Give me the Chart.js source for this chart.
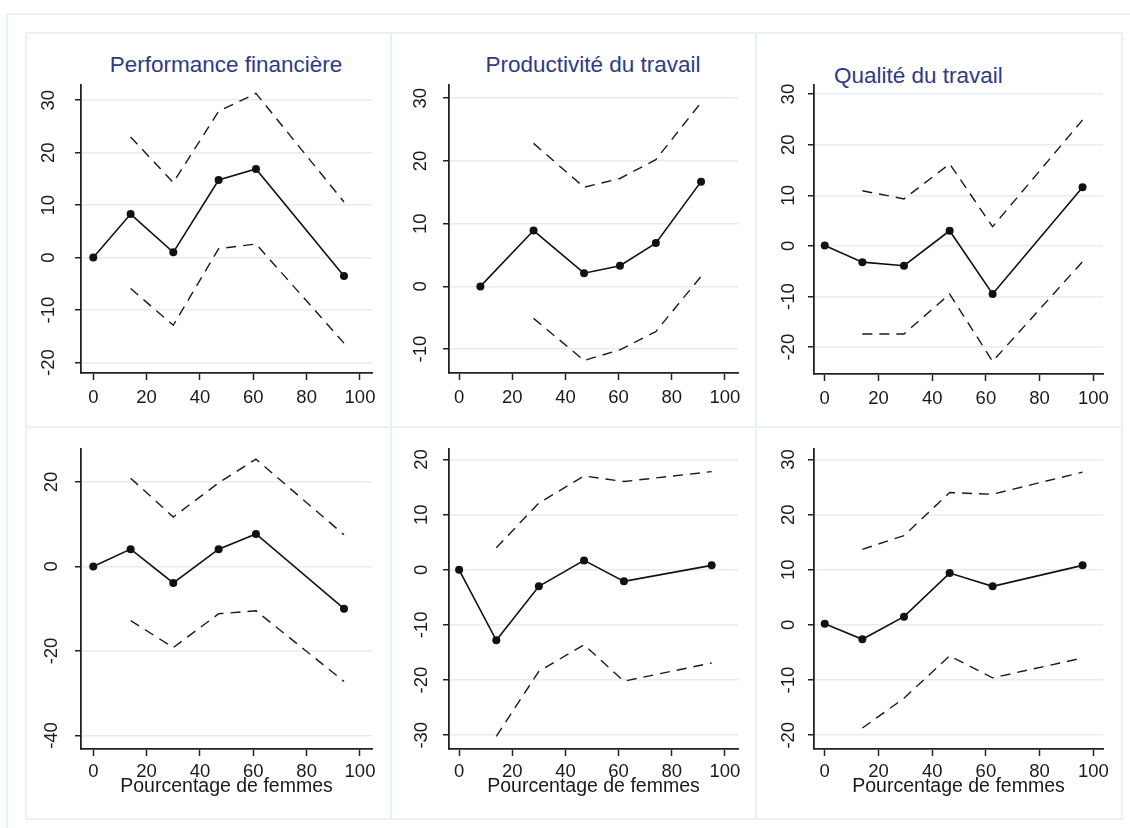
<!DOCTYPE html>
<html>
<head>
<meta charset="utf-8">
<script src="https://cdn.jsdelivr.net/npm/chart.js@4.4.1/dist/chart.umd.min.js"></script>
<style>
  body { margin: 0; background: #fff; }
  #wrap { position: relative; width: 1130px; height: 828px; overflow: hidden; font-family: "Liberation Sans", Arial, sans-serif; }
  .frame { position: absolute; border: 2px solid #e9f1f3; box-sizing: border-box; }
  .line { position: absolute; background: #e9f1f3; }
  canvas { position: absolute; }
  .ttl { position: absolute; font-size: 22.5px; line-height: 23px; color: #2e3a87; white-space: nowrap; }
</style>
</head>
<body>
<div id="wrap">
  <div class="frame" style="left:6px;top:13px;width:1140px;height:830px"></div>
  <div class="frame" style="left:25px;top:32px;width:1098px;height:788px"></div>
  <div class="line" style="left:390px;top:32px;width:2px;height:788px"></div>
  <div class="line" style="left:755px;top:32px;width:2px;height:788px"></div>
  <div class="line" style="left:25px;top:426px;width:1098px;height:2px"></div>
  <div class="ttl" style="left:76px;top:53px;width:300px;text-align:center">Performance financière</div>
  <div class="ttl" style="left:443px;top:53px;width:300px;text-align:center">Productivité du travail</div>
  <div class="ttl" style="left:834px;top:64px">Qualité du travail</div>
</div>
<script>
// tick labels
const xTicks = [0, 20, 40, 60, 80, 100]
const yTicksFin1 = [-20, -10, 0, 10, 20, 30]
const yTicksProd1 = [-10, 0, 10, 20, 30]
const yTicksQual1 = [-20, -10, 0, 10, 20, 30]
const yTicksFin2 = [-40, -20, 0, 20]
const yTicksProd2 = [-30, -20, -10, 0, 10, 20]
const yTicksQual2 = [-20, -10, 0, 10, 20, 30]

// pourcentage de femmes (x)
const xFin = [0, 14, 30, 47, 61, 94]
const xProd1 = [8, 28, 47, 60.5, 74, 91]
const xQual = [0, 14, 29.5, 46.5, 62.5, 96]
const xProd2 = [0, 14, 30, 47, 62, 95]

// haut : estimation, borne haute, borne basse
const fin1 = [0, 8.3, 1, 14.8, 16.9, -3.5]
const fin1Hi = [null, 23, 14.3, 27.9, 31.3, 10.6]
const fin1Lo = [null, -5.9, -12.9, 1.7, 2.6, -16.3]

const prod1 = [0, 8.9, 2.1, 3.3, 6.9, 16.7]
const prod1Hi = [null, 22.8, 15.8, 17.2, 20.2, 29.3]
const prod1Lo = [null, -5.1, -11.8, -10.1, -7.2, 1.6]

const qual1 = [0.1, -3.2, -3.9, 3, -9.5, 11.6]
const qual1Hi = [null, 10.9, 9.3, 16.2, 3.8, 24.9]
const qual1Lo = [null, -17.4, -17.4, -9.5, -22.8, -3.1]

// bas
const fin2 = [0, 4.1, -3.9, 4.1, 7.7, -10]
const fin2Hi = [null, 20.9, 11.7, 19.8, 25.4, 7.5]
const fin2Lo = [null, -12.8, -19.2, -11.2, -10.5, -27.2]

const prod2 = [0, -12.8, -3, 1.7, -2.1, 0.8]
const prod2Hi = [null, 4, 12.1, 17, 16, 17.8]
const prod2Lo = [null, -30.2, -18.4, -13.6, -20.2, -16.9]

const qual2 = [0.2, -2.6, 1.5, 9.4, 7, 10.8]
const qual2Hi = [null, 13.7, 16.2, 24, 23.7, 27.7]
const qual2Lo = [null, -18.7, -13.3, -5.6, -9.6, -6]

Chart.defaults.font.family = '"Liberation Sans", Arial, sans-serif'

const cols = [26, 391, 756, 1122]
const rows = [33, 427, 819]

function makePanel(cfg) {
    const [x0, y0, x1, y1] = cfg.box
    const [L, T, R, B] = cfg.area
    const cv = document.createElement('canvas')
    cv.width = x1 - x0
    cv.height = y1 - y0
    cv.style.left = x0 + 'px'
    cv.style.top = y0 + 'px'
    document.getElementById('wrap').appendChild(cv)

    const pts = ys => cfg.x.map((x, i) => ({ x: x, y: ys[i] }))
    const dashed = ys => ({
        data: pts(ys),
        borderColor: '#1a1a1a',
        borderWidth: 1.4,
        borderDash: [10, 7],
        pointRadius: 0,
        tension: 0
    })

    new Chart(cv, {
        type: 'line',
        data: {
            datasets: [
                dashed(cfg.hi),
                dashed(cfg.lo),
                {
                    data: pts(cfg.est),
                    borderColor: '#111',
                    borderWidth: 1.6,
                    pointRadius: 4,
                    pointBorderWidth: 0,
                    pointBackgroundColor: '#111',
                    tension: 0
                }
            ]
        },
        options: {
            responsive: false,
            animation: false,
            events: [],
            layout: { padding: { left: 0, top: T - y0, right: x1 - R, bottom: 0 } },
            plugins: { legend: { display: false }, tooltip: { enabled: false } },
            scales: {
                x: {
                    type: 'linear',
                    min: cfg.xr[0],
                    max: cfg.xr[1],
                    afterFit: s => { s.height = y1 - B },
                    afterBuildTicks: s => { s.ticks = xTicks.map(v => ({ value: v })) },
                    grid: { drawOnChartArea: false, tickLength: 7, tickColor: '#222', tickWidth: 1.5 },
                    border: { color: '#222', width: 1.8 },
                    ticks: { font: { size: 18.5 }, color: '#1a1a1a', padding: cfg.xPad, maxRotation: 0, autoSkip: false },
                    title: {
                        display: !!cfg.xTitle,
                        text: cfg.xTitle || '',
                        font: { size: 19.5 },
                        color: '#1a1a1a',
                        padding: { top: 0, bottom: 20.6 }
                    }
                },
                y: {
                    type: 'linear',
                    min: cfg.yr[0],
                    max: cfg.yr[1],
                    afterFit: s => { s.width = L - x0 },
                    afterBuildTicks: s => { s.ticks = cfg.yTicks.map(v => ({ value: v })) },
                    grid: { color: '#e4eef1', lineWidth: 1.5, tickLength: 6, tickColor: '#222', tickWidth: 1.5 },
                    border: { color: '#222', width: 1.8 },
                    ticks: {
                        font: { size: 18.5 }, color: '#1a1a1a', padding: cfg.yPad,
                        minRotation: 90, maxRotation: 90, crossAlign: 'center', autoSkip: false
                    }
                }
            }
        }
    })
}

const xlab = 'Pourcentage de femmes'

makePanel({ box: [cols[0], rows[0], cols[1], rows[1]], area: [81, 85, 372, 373], xr: [-4.6, 104.5], yr: [-22, 32.9],
    yTicks: yTicksFin1, yPad: 13, xPad: 7, x: xFin, est: fin1, hi: fin1Hi, lo: fin1Lo })
makePanel({ box: [cols[1], rows[0], cols[2], rows[1]], area: [449, 85, 738, 373], xr: [-3.8, 104.9], yr: [-13.8, 32.1],
    yTicks: yTicksProd1, yPad: 9, xPad: 7, x: xProd1, est: prod1, hi: prod1Hi, lo: prod1Lo })
makePanel({ box: [cols[2], rows[0], cols[3], rows[1]], area: [814, 85, 1103, 374], xr: [-4, 103.6], yr: [-25.3, 31.8],
    yTicks: yTicksQual1, yPad: 6, xPad: 7, x: xQual, est: qual1, hi: qual1Hi, lo: qual1Lo })

makePanel({ box: [cols[0], rows[1], cols[1], rows[2]], area: [81, 449, 372, 749], xr: [-4.6, 104.5], yr: [-43.2, 27.8],
    yTicks: yTicksFin2, yPad: 9.5, xPad: 5, x: xFin, est: fin2, hi: fin2Hi, lo: fin2Lo, xTitle: xlab })
makePanel({ box: [cols[1], rows[1], cols[2], rows[2]], area: [449, 449, 738, 749], xr: [-3.8, 104.9], yr: [-32.5, 21.9],
    yTicks: yTicksProd2, yPad: 7.5, xPad: 5, x: xProd2, est: prod2, hi: prod2Hi, lo: prod2Lo, xTitle: xlab })
makePanel({ box: [cols[2], rows[1], cols[3], rows[2]], area: [814, 449, 1103, 749], xr: [-4, 103.6], yr: [-22.5, 31.9],
    yTicks: yTicksQual2, yPad: 6, xPad: 5, x: xQual, est: qual2, hi: qual2Hi, lo: qual2Lo, xTitle: xlab })
</script>
</body>
</html>
